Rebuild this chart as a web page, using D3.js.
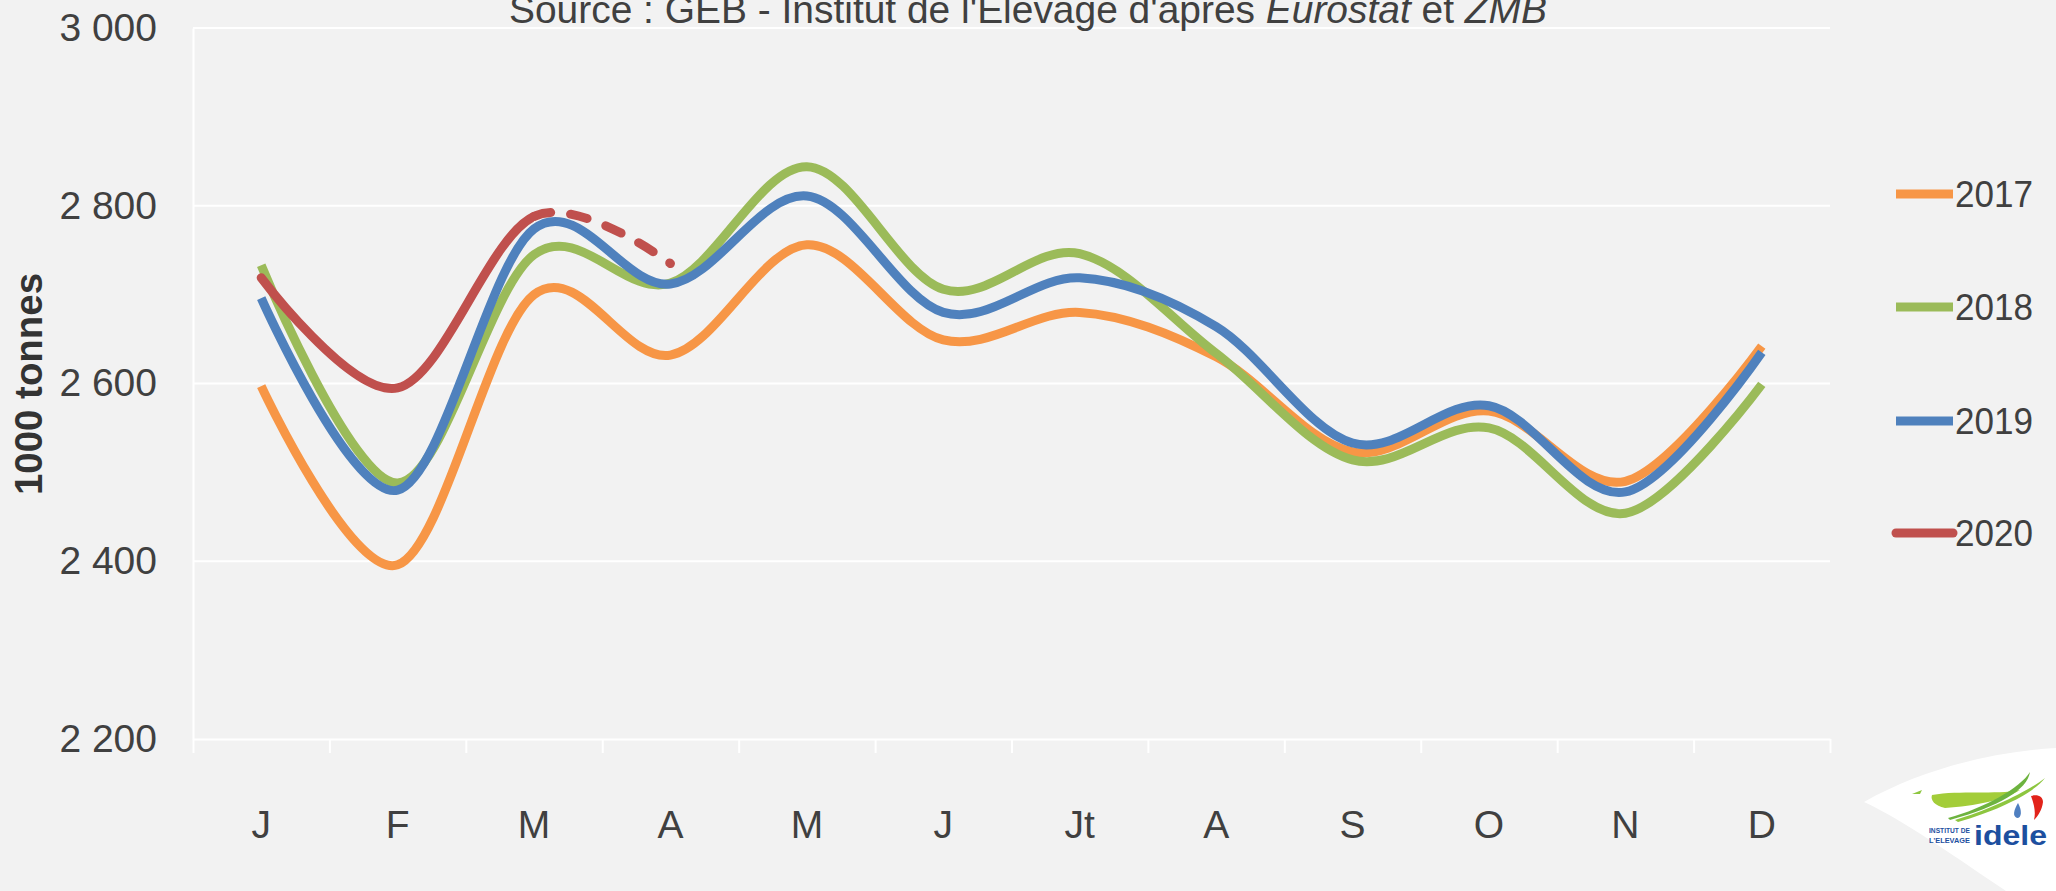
<!DOCTYPE html>
<html>
<head>
<meta charset="utf-8">
<script src="https://cdn.jsdelivr.net/npm/d3@7"></script>
<style>
  html, body { margin: 0; padding: 0; background: #f2f2f2; }
  svg { display: block; }
  text { font-family: "Liberation Sans", Arial, sans-serif; fill: #404040; }
</style>
</head>
<body>
<script>
// ---- data ----
const months = ["J", "F", "M", "A", "M", "J", "Jt", "A", "S", "O", "N", "D"];
const years = ["2017", "2018", "2019", "2020"];
const s2017 = [2597, 2396, 2700, 2632, 2756, 2649, 2680, 2630, 2523, 2569, 2490, 2642];
const s2018 = [2733, 2488, 2745, 2713, 2844, 2706, 2746, 2634, 2514, 2550, 2454, 2599];
const s2019 = [2696, 2480, 2774, 2712, 2811, 2680, 2719, 2664, 2533, 2575, 2478, 2635];
const s2020 = [2719, 2595, 2788, 2735];
const yTicks = [2200, 2400, 2600, 2800, 3000];
const yTickLabels = ["2 200", "2 400", "2 600", "2 800", "3 000"];
const colors = ["#f79646", "#9bbb59", "#4f81bd", "#c0504d"];
const seriesValues = [s2017, s2018, s2019, s2020];
const title = "Source : GEB - Institut de l'Elevage d'apres ";
const yLabel = "1000 tonnes";

(function () {
const W = 2056, H = 891;
const svg = d3.select("body").append("svg").attr("width", W).attr("height", H);
svg.append("rect").attr("width", W).attr("height", H).attr("fill", "#f2f2f2");

const pLeft = 193, pRight = 1830, pTop = 28, pBottom = 739;
const x = d3.scaleBand().domain(d3.range(months.length)).range([pLeft, pRight]).padding(0);
const xb = d3.scaleLinear().domain([0, months.length]).range([pLeft, pRight]);
const y = d3.scaleLinear().domain([2200, 3000]).range([pBottom, pTop]);
const cx = i => x(i) + x.bandwidth() / 2;

// gridlines
svg.append("g").selectAll("line").data(yTicks.slice(1)).join("line")
  .attr("x1", pLeft).attr("x2", pRight)
  .attr("y1", d => y(d)).attr("y2", d => y(d))
  .attr("stroke", "#ffffff").attr("stroke-width", 2);

// y axis
const yAxis = svg.append("g").attr("transform", `translate(${pLeft},0)`)
  .call(d3.axisLeft(y).tickValues(yTicks).tickFormat((d, i) => yTickLabels[i]).tickSize(0).tickPadding(36));
yAxis.select(".domain").attr("stroke", "#ffffff").attr("stroke-width", 2);
yAxis.selectAll("text").attr("font-size", 39).attr("fill", "#404040")
  .style("font-family", '"Liberation Sans", Arial, sans-serif');

// x axis boundary ticks
const xTickAxis = svg.append("g").attr("transform", `translate(0,${pBottom})`)
  .call(d3.axisBottom(xb).tickValues(d3.range(months.length + 1)).tickFormat("").tickSize(14).tickSizeOuter(0));
xTickAxis.select(".domain").attr("stroke", "#ffffff").attr("stroke-width", 2);
xTickAxis.selectAll("line").attr("stroke", "#ffffff").attr("stroke-width", 2);

// x labels
const xLab = svg.append("g").attr("transform", `translate(0,${pBottom})`)
  .call(d3.axisBottom(x).tickFormat(i => months[i]).tickSize(0));
xLab.select(".domain").remove();
xLab.selectAll("text").attr("y", 99).attr("dy", 0).attr("font-size", 39)
  .attr("fill", "#404040").style("font-family", '"Liberation Sans", Arial, sans-serif');

// y label
svg.append("text").attr("transform", "translate(28,384) rotate(-90)")
  .attr("text-anchor", "middle").attr("dominant-baseline", "central")
  .attr("font-size", 39).attr("font-weight", "bold").style("fill", "#333333")
  .attr("textLength", 222).attr("lengthAdjust", "spacingAndGlyphs")
  .text(yLabel);

// title (partly cut at top, as in the original)
const t = svg.append("text").attr("x", W / 2).attr("y", 23).attr("text-anchor", "middle")
  .attr("font-size", 39)
  .attr("textLength", 1038).attr("lengthAdjust", "spacingAndGlyphs");
t.append("tspan").text(title);
t.append("tspan").attr("font-style", "italic").text("Eurostat");
t.append("tspan").text(" et ");
t.append("tspan").attr("font-style", "italic").text("ZMB");

// lines
const line = d3.line().x((d, i) => cx(i)).y(d => y(d)).curve(d3.curveCardinal.tension(0));
const defs = svg.append("defs");
defs.append("clipPath").attr("id", "clipSolid").append("rect")
  .attr("x", 0).attr("y", 0).attr("width", cx(2)).attr("height", H);
defs.append("clipPath").attr("id", "clipDash").append("rect")
  .attr("x", cx(2)).attr("y", 0).attr("width", W - cx(2)).attr("height", H);

const g = svg.append("g");
[0, 1, 2].forEach(k => {
  g.append("path").attr("d", line(seriesValues[k])).attr("fill", "none")
    .attr("stroke", colors[k]).attr("stroke-width", 9);
});
// 2020: solid up to March, dashed afterwards
const redD = line(s2020);
g.append("path").attr("d", redD).attr("fill", "none").attr("stroke", colors[3])
  .attr("stroke-width", 9).attr("stroke-linecap", "round").attr("clip-path", "url(#clipSolid)");
const dashed = g.append("path").attr("d", redD).attr("fill", "none").attr("stroke", colors[3])
  .attr("stroke-width", 9).attr("stroke-linecap", "round");
const node = dashed.node();
const total = node.getTotalLength();
let lo = 0, hi = total;
for (let it = 0; it < 40; it++) {
  const mid = (lo + hi) / 2;
  if (node.getPointAtLength(mid).x < cx(2)) lo = mid; else hi = mid;
}
dashed.attr("stroke-dasharray", "17 20").attr("stroke-dashoffset", -lo)
  .attr("clip-path", "url(#clipDash)");
g.append("circle").attr("cx", cx(2)).attr("cy", node.getPointAtLength(lo).y).attr("r", 4.5).attr("fill", colors[3]);

// legend
const legY = [194, 307, 421, 533];
const leg = svg.append("g");
years.forEach((yr, k) => {
  leg.append("line").attr("x1", 1896).attr("x2", 1953).attr("y1", legY[k]).attr("y2", legY[k])
    .attr("stroke", colors[k]).attr("stroke-width", 9)
    .attr("stroke-linecap", k === 3 ? "round" : "butt");
  leg.append("text").attr("x", 1955).attr("y", legY[k]).attr("dy", "0.36em")
    .attr("font-size", 37)
    .attr("textLength", 78).attr("lengthAdjust", "spacingAndGlyphs").text(yr);
});

// logo
const logo = svg.append("g");
logo.append("path").attr("d", "M1864,802 C1920,770 1990,752 2056,748 L2056,891 L2006,891 C1960,860 1900,818 1864,802 Z")
  .attr("fill", "#ffffff");
logo.append("path").attr("d", "M1912,794 L1922,790 L1920,794 Z").attr("fill", "#8dc63f");
logo.append("path").attr("d", "M1932,795 C1960,790 1995,795 2020,790 C2005,800 1975,806 1945,808 C1935,806 1930,800 1932,795 Z")
  .attr("fill", "#a3cd39");
logo.append("path").attr("d", "M1948,818 C1985,808 2020,788 2030,772 C2027,790 2000,806 1950,820 Z")
  .attr("fill", "#6db33f");
logo.append("path").attr("d", "M1955,820 C1990,810 2030,790 2045,778 C2035,792 2000,810 1958,822 Z")
  .attr("fill", "#8dc63f");
logo.append("path").attr("d", "M2018,803 C2014,810 2012,816 2017,818 C2022,818 2022,810 2018,803 Z").attr("fill", "#4f7fc0");
logo.append("path").attr("d", "M2031,796 C2038,794 2043,797 2043,802 C2042,810 2038,816 2034,820 C2036,812 2034,804 2031,796 Z").attr("fill", "#e2231a");
const small = logo.append("text").attr("x", 1929).attr("y", 833).attr("font-size", 8).attr("font-weight", "bold")
  .style("fill", "#1d4f9f");
small.append("tspan").attr("x", 1929).attr("textLength", 41).attr("lengthAdjust", "spacingAndGlyphs").text("INSTITUT DE");
small.append("tspan").attr("x", 1929).attr("dy", 10).attr("textLength", 41).attr("lengthAdjust", "spacingAndGlyphs").text("L'ELEVAGE");
logo.append("text").attr("x", 1974).attr("y", 845).attr("font-size", 28).attr("font-weight", "bold")
  .style("fill", "#1d4f9f").attr("textLength", 73).attr("lengthAdjust", "spacingAndGlyphs").text("idele");
})();
</script>
</body>
</html>
